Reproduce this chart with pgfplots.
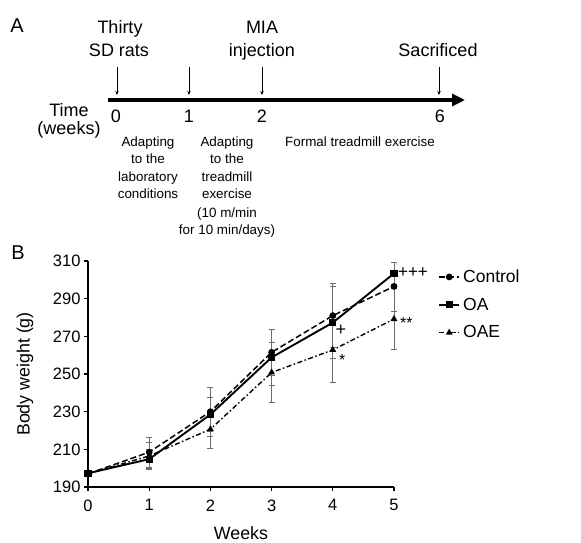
\documentclass[border=0pt]{standalone}
\usepackage{fontspec}
\setmainfont{Liberation Sans}
\usepackage{pgfplots}
\pgfplotsset{compat=1.18}
\usetikzlibrary{arrows.meta}
\begin{document}
\begin{tikzpicture}[x=1pt,y=1pt]
\useasboundingbox (0,0) rectangle (581,542);
% ---------- Panel A: timeline ----------
\begin{axis}[
  at={(0pt,0pt)}, anchor=south west, scale only axis,
  width=581pt, height=542pt, xmin=0, xmax=581, ymin=0, ymax=542,
  hide axis, clip=false]
\addplot[line width=4pt, -{Triangle[length=13pt,width=12pt]}] coordinates {(108,442) (465,442)};
\addplot[line width=0.7pt, -{Stealth[length=4pt,width=3.5pt]}] coordinates {(117,475) (117,447)};
\addplot[line width=0.7pt, -{Stealth[length=4pt,width=3.5pt]}] coordinates {(189,475) (189,447)};
\addplot[line width=0.7pt, -{Stealth[length=4pt,width=3.5pt]}] coordinates {(262,475) (262,447)};
\addplot[line width=0.7pt, -{Stealth[length=4pt,width=3.5pt]}] coordinates {(439,475) (439,447)};
\node[font=\fontsize{20}{22}\selectfont] at (axis cs:17,516) {A};
\node[font=\fontsize{20}{22}\selectfont] at (axis cs:18,289) {B};
% headings
\begin{scope}[every node/.style={font=\fontsize{18}{20}\selectfont, anchor=base, inner sep=0pt}]
\node at (axis cs:120,508) {Thirty};
\node at (axis cs:119,485) {SD rats};
\node at (axis cs:262,508) {MIA};
\node at (axis cs:262,485) {injection};
\node at (axis cs:438,485) {Sacrificed};
\node at (axis cs:69,425) {Time};
\node at (axis cs:69,407) {(weeks)};
\node at (axis cs:116,419) {0};
\node at (axis cs:189,419) {1};
\node at (axis cs:262,419) {2};
\node at (axis cs:440,419) {6};
\end{scope}
\begin{scope}[every node/.style={font=\fontsize{13.4}{15}\selectfont, anchor=base, inner sep=0pt}]
\node at (axis cs:148,395) {Adapting};
\node at (axis cs:148,378) {to the};
\node at (axis cs:148,360) {laboratory};
\node at (axis cs:148,343) {conditions};
\node at (axis cs:227,395) {Adapting};
\node at (axis cs:227,378) {to the};
\node at (axis cs:227,360) {treadmill};
\node at (axis cs:227,343) {exercise};
\node at (axis cs:227,324) {(10 m/min};
\node at (axis cs:227,307) {for 10 min/days)};
\node at (axis cs:360,395) {Formal treadmill exercise};
\end{scope}
\end{axis}
% ---------- Panel B: body weight ----------
\begin{axis}[
  at={(88pt,55pt)}, anchor=south west, scale only axis,
  width=306pt, height=226pt,
  xmin=0, xmax=5, ymin=190, ymax=310,
  axis lines*=left, axis line style={line width=1.4pt},
  xtick={0,1,2,3,4,5}, ytick={190,210,230,250,270,290,310},
  tick align=outside, major tick length=4pt,
  tick style={line width=1.2pt, black},
  /pgf/number format/assume math mode=true,
  ticklabel style={font=\fontsize{16.5}{18}\selectfont},
  xticklabel style={yshift=-5pt},
  xlabel={Weeks}, ylabel={Body weight (g)},
  label style={font=\fontsize{17.8}{20}\selectfont},
  xlabel style={at={(axis description cs:0.5,-0.204)}, anchor=center},
  ylabel style={at={(axis description cs:-0.206,0.5)}, anchor=center},
  clip=false,
  legend style={draw=none, fill=none, font=\fontsize{17.5}{19}\selectfont,
    at={(axis description cs:1.144,0.975)}, anchor=north west,
    inner sep=0pt, row sep=8pt, nodes={inner sep=3pt}},
  legend cell align=left,
  legend image code/.code={\draw[mark repeat=2,mark phase=2,#1] plot coordinates {(0pt,0pt) (10pt,0pt) (20pt,0pt)};},
  error bars/error bar style={gray!85!black, line width=0.8pt, solid},
  error bars/error mark options={rotate=90, mark size=3pt, gray!85!black, line width=0.8pt, solid},
]
\addplot[black, line width=1.5pt, dash pattern=on 6pt off 3pt, mark=*, mark size=2.6pt, mark options={solid},
  error bars/.cd, y dir=both, y explicit]
  coordinates {(0,197) +- (0,1) (1,208.5) +- (0,8) (2,230) +- (0,13) (3,261.5) +- (0,12) (4,281) +- (0,17) (5,296.5) +- (0,13)};
\addlegendentry{Control}
\addplot[black, line width=1.9pt, mark=square*, mark size=2.6pt, mark options={solid},
  error bars/.cd, y dir=both, y explicit]
  coordinates {(0,197.3) +- (0,1) (1,204.8) +- (0,5) (2,228.5) +- (0,9) (3,258.8) +- (0,15) (4,277.3) +- (0,19) (5,303.4) +- (0,6)};
\addlegendentry{OA}
\addplot[black, line width=1.4pt, dash pattern=on 5pt off 2.5pt on 1.5pt off 2.5pt, mark=triangle*, mark size=2.6pt, mark options={solid},
  error bars/.cd, y dir=both, y explicit]
  coordinates {(0,197) +- (0,1) (1,206.5) +- (0,7) (2,220.7) +- (0,10) (3,250.8) +- (0,16) (4,262.8) +- (0,17) (5,279.2) +- (0,16)};
\addlegendentry{OAE}
\node[font=\fontsize{17}{18}\selectfont, anchor=center, inner sep=0pt] at (axis cs:5.31,303.6) {+++};
\node[font=\fontsize{18}{18}\selectfont, anchor=center, inner sep=0pt] at (axis cs:4.13,273.4) {+};
\node[font=\fontsize{16}{18}\selectfont, anchor=base west, inner sep=0pt] at (axis cs:5.098,273.9) {**};
\node[font=\fontsize{16}{18}\selectfont, anchor=base west, inner sep=0pt] at (axis cs:4.10,254.3) {*};
\end{axis}
\end{tikzpicture}
\end{document}
